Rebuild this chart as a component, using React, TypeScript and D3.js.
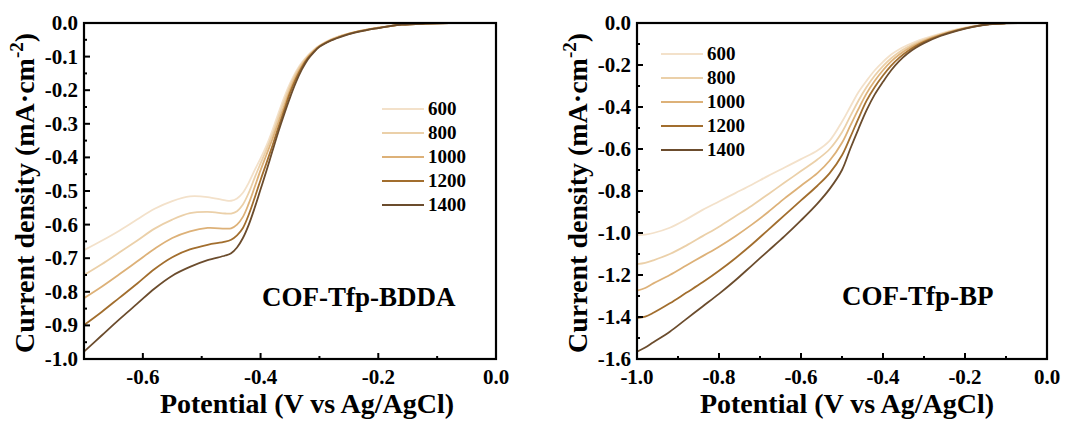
import React from "react";
import * as d3 from "d3";

const seriesNames = ["600", "800", "1000", "1200", "1400"];
const seriesColors = ["#f3e1ca", "#ebd0a9", "#ddb178", "#a26e2e", "#6b4c2d"];

// Left panel: COF-Tfp-BDDA
const leftX = [-0.70, -0.67, -0.64, -0.61, -0.58, -0.55, -0.52, -0.49, -0.46, -0.45, -0.44, -0.43, -0.42, -0.41, -0.40, -0.39, -0.38, -0.37, -0.36, -0.35, -0.34, -0.33, -0.32, -0.31, -0.30, -0.28, -0.26, -0.24, -0.22, -0.20, -0.18, -0.16, -0.12, -0.08, 0];
const left600 = [-0.676, -0.648, -0.618, -0.585, -0.553, -0.530, -0.516, -0.518, -0.528, -0.529, -0.522, -0.505, -0.475, -0.438, -0.403, -0.365, -0.32, -0.27, -0.222, -0.180, -0.145, -0.118, -0.097, -0.080, -0.067, -0.048, -0.036, -0.027, -0.020, -0.014, -0.009, -0.005, -0.002, -0.0005, 0];
const left800 = [-0.75, -0.718, -0.683, -0.648, -0.612, -0.585, -0.566, -0.562, -0.567, -0.567, -0.56, -0.54, -0.505, -0.46, -0.418, -0.377, -0.332, -0.282, -0.233, -0.188, -0.150, -0.121, -0.099, -0.082, -0.068, -0.049, -0.036, -0.027, -0.020, -0.014, -0.009, -0.005, -0.002, -0.0005, 0];
const left1000 = [-0.819, -0.785, -0.748, -0.71, -0.672, -0.64, -0.62, -0.61, -0.612, -0.611, -0.6, -0.577, -0.537, -0.488, -0.438, -0.392, -0.346, -0.296, -0.247, -0.199, -0.158, -0.127, -0.102, -0.084, -0.069, -0.050, -0.037, -0.027, -0.020, -0.014, -0.009, -0.005, -0.002, -0.0005, 0];
const left1200 = [-0.899, -0.86, -0.818, -0.776, -0.732, -0.697, -0.674, -0.66, -0.651, -0.645, -0.632, -0.61, -0.57, -0.52, -0.467, -0.417, -0.366, -0.312, -0.26, -0.208, -0.166, -0.132, -0.105, -0.086, -0.070, -0.051, -0.038, -0.028, -0.021, -0.015, -0.009, -0.005, -0.002, -0.0005, 0];
const left1400 = [-0.978, -0.93, -0.882, -0.836, -0.79, -0.752, -0.726, -0.706, -0.692, -0.685, -0.668, -0.64, -0.60, -0.55, -0.495, -0.44, -0.382, -0.325, -0.272, -0.222, -0.177, -0.139, -0.109, -0.088, -0.071, -0.052, -0.039, -0.029, -0.021, -0.015, -0.009, -0.005, -0.002, -0.0005, 0];

// Right panel: COF-Tfp-BP
const rightX = [-1.00, -0.98, -0.96, -0.92, -0.88, -0.84, -0.80, -0.76, -0.72, -0.68, -0.64, -0.60, -0.56, -0.53, -0.50, -0.48, -0.46, -0.44, -0.42, -0.40, -0.38, -0.36, -0.34, -0.32, -0.30, -0.26, -0.22, -0.18, -0.14, -0.10, 0];
const right600 = [-1.01, -1.008, -1.0, -0.975, -0.935, -0.89, -0.85, -0.81, -0.77, -0.728, -0.688, -0.648, -0.607, -0.56, -0.47, -0.40, -0.33, -0.275, -0.225, -0.185, -0.15, -0.125, -0.105, -0.088, -0.074, -0.05, -0.03, -0.015, -0.005, -0.001, 0];
const right800 = [-1.148, -1.142, -1.13, -1.1, -1.06, -1.015, -0.97, -0.92, -0.87, -0.815, -0.76, -0.705, -0.65, -0.6, -0.52, -0.445, -0.37, -0.305, -0.25, -0.205, -0.168, -0.138, -0.115, -0.096, -0.08, -0.054, -0.032, -0.016, -0.005, -0.001, 0];
const right1000 = [-1.275, -1.262, -1.24, -1.2, -1.155, -1.11, -1.065, -1.015, -0.96, -0.9, -0.835, -0.775, -0.715, -0.655, -0.57, -0.49, -0.41, -0.335, -0.275, -0.225, -0.183, -0.15, -0.124, -0.103, -0.085, -0.057, -0.034, -0.017, -0.005, -0.001, 0];
const right1200 = [-1.405, -1.398, -1.38, -1.335, -1.285, -1.235, -1.18, -1.12, -1.055, -0.985, -0.915, -0.845, -0.775, -0.715, -0.63, -0.545, -0.455, -0.37, -0.305, -0.25, -0.203, -0.165, -0.135, -0.11, -0.09, -0.059, -0.035, -0.017, -0.005, -0.001, 0];
const right1400 = [-1.565, -1.545, -1.52, -1.47, -1.41, -1.35, -1.29, -1.225, -1.155, -1.085, -1.015, -0.94, -0.86, -0.79, -0.70, -0.60, -0.505, -0.415, -0.34, -0.28, -0.225, -0.18, -0.145, -0.118, -0.096, -0.062, -0.037, -0.018, -0.006, -0.002, 0];

const leftXTicks = [-0.6, -0.4, -0.2, 0.0];
const leftXMinor = [-0.7, -0.5, -0.3, -0.1];
const leftYTicks = [0, -0.1, -0.2, -0.3, -0.4, -0.5, -0.6, -0.7, -0.8, -0.9, -1.0];
const leftYMinor = [-0.05, -0.15, -0.25, -0.35, -0.45, -0.55, -0.65, -0.75, -0.85, -0.95];
const rightXTicks = [-1.0, -0.8, -0.6, -0.4, -0.2, 0.0];
const rightXMinor = [-0.9, -0.7, -0.5, -0.3, -0.1];
const rightYTicks = [0, -0.2, -0.4, -0.6, -0.8, -1.0, -1.2, -1.4, -1.6];
const rightYMinor = [-0.1, -0.3, -0.5, -0.7, -0.9, -1.1, -1.3, -1.5];

const FONT = "'Liberation Serif', 'Times New Roman', serif";

type PanelProps = {
  left: number; right: number; top: number; bottom: number;
  xDomain: [number, number]; yDomain: [number, number];
  xs: number[]; ys: number[][];
  xTicks: number[]; xMinor: number[]; yTicks: number[]; yMinor: number[];
  yTitleX: number; xTitleX: number;
  legendX: number; legendY: number;
  label: string; labelX: number; labelY: number;
};

function Panel(p: PanelProps) {
  const x = d3.scaleLinear().domain(p.xDomain).range([p.left, p.right]);
  const y = d3.scaleLinear().domain(p.yDomain).range([p.top, p.bottom]);
  const line = d3.line<[number, number]>().x(d => x(d[0])).y(d => y(d[1])).curve(d3.curveCatmullRom.alpha(0.5));
  const fmt = (v: number) => (Math.abs(v) < 1e-9 ? "0.0" : v.toFixed(1));
  return (
    <g fontFamily={FONT} fontWeight="bold" fill="#000">
      <defs>
        <clipPath id={"clip" + p.left}>
          <rect x={p.left} y={p.top - 1} width={p.right - p.left} height={p.bottom - p.top + 1} />
        </clipPath>
      </defs>
      <g clipPath={`url(#clip${p.left})`}>
        {p.ys.map((s, i) => (
          <path key={i} d={line(p.xs.map((xv, k) => [xv, s[k]]) as [number, number][]) || ""} fill="none" stroke={seriesColors[i]} strokeWidth={1.8} />
        ))}
      </g>
      <rect x={p.left} y={p.top} width={p.right - p.left} height={p.bottom - p.top} fill="none" stroke="#000" strokeWidth={2.2} />
      {p.xTicks.map(t => (
        <g key={"xt" + t}>
          <line x1={x(t)} x2={x(t)} y1={p.bottom} y2={p.bottom - 6} stroke="#000" strokeWidth={2} />
          <text x={x(t)} y={p.bottom + 25} textAnchor="middle" fontSize={21}>{fmt(t)}</text>
        </g>
      ))}
      {p.xMinor.map(t => (
        <line key={"xm" + t} x1={x(t)} x2={x(t)} y1={p.bottom} y2={p.bottom - 3} stroke="#000" strokeWidth={2} />
      ))}
      {p.yTicks.map(t => (
        <g key={"yt" + t}>
          <line x1={p.left} x2={p.left + 6} y1={y(t)} y2={y(t)} stroke="#000" strokeWidth={2} />
          <text x={p.left - 6} y={y(t) + 7} textAnchor="end" fontSize={21}>{fmt(t)}</text>
        </g>
      ))}
      {p.yMinor.map(t => (
        <line key={"ym" + t} x1={p.left} x2={p.left + 3} y1={y(t)} y2={y(t)} stroke="#000" strokeWidth={2} />
      ))}
      <text transform={`translate(${p.yTitleX},${(p.top + p.bottom) / 2 + 2}) rotate(-90)`} textAnchor="middle" fontSize={28}>
        Current density (mA·cm<tspan dy={-11} fontSize={19}>-2</tspan><tspan dy={11}>)</tspan>
      </text>
      <text x={p.xTitleX} y={413} textAnchor="middle" fontSize={28}>Potential (V vs Ag/AgCl)</text>
      {seriesNames.map((n, i) => (
        <g key={n}>
          <line x1={p.legendX} x2={p.legendX + 42} y1={p.legendY + i * 24} y2={p.legendY + i * 24} stroke={seriesColors[i]} strokeWidth={2} />
          <text x={p.legendX + 46} y={p.legendY + i * 24 + 6} fontSize={19}>{n}</text>
        </g>
      ))}
      <text x={p.labelX} y={p.labelY} fontSize={27}>{p.label}</text>
    </g>
  );
}

export default function App() {
  return (
    <svg width={1071} height={423} style={{ display: "block", position: "absolute", left: 0, top: 0, background: "#fff" }}>
      <Panel left={84} right={496} top={23} bottom={359}
        xDomain={[-0.7, 0]} yDomain={[0, -1.0]}
        xs={leftX} ys={[left600, left800, left1000, left1200, left1400]}
        xTicks={leftXTicks} xMinor={leftXMinor} yTicks={leftYTicks} yMinor={leftYMinor}
        yTitleX={34} xTitleX={307}
        legendX={382} legendY={109}
        label="COF-Tfp-BDDA" labelX={262} labelY={306} />
      <Panel left={637} right={1047} top={23} bottom={359}
        xDomain={[-1.0, 0]} yDomain={[0, -1.6]}
        xs={rightX} ys={[right600, right800, right1000, right1200, right1400]}
        xTicks={rightXTicks} xMinor={rightXMinor} yTicks={rightYTicks} yMinor={rightYMinor}
        yTitleX={587} xTitleX={847}
        legendX={661} legendY={54}
        label="COF-Tfp-BP" labelX={842} labelY={305} />
    </svg>
  );
}
